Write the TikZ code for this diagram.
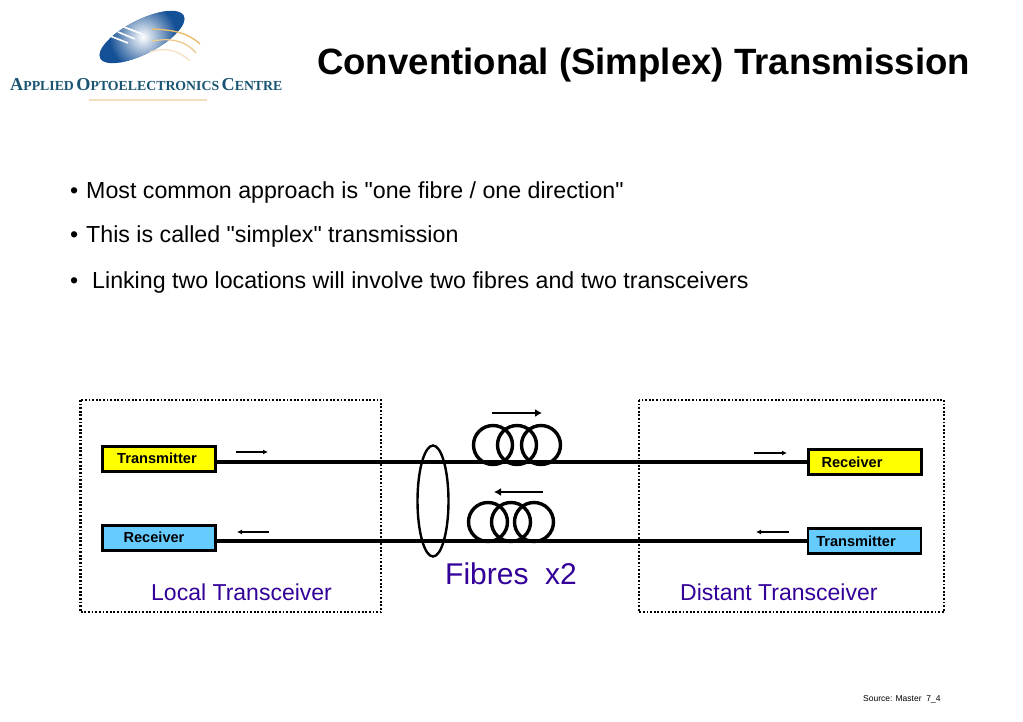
\documentclass[tikz,border=0pt]{standalone}
\usepackage{fontspec}
\setmainfont{Liberation Sans}[Ligatures=TeXOff]
\newfontfamily\logofont{Liberation Serif}
\definecolor{ybox}{RGB}{255,255,0}
\definecolor{bbox}{RGB}{102,204,255}
\definecolor{purp}{RGB}{51,0,153}
\definecolor{logoblue}{RGB}{20,80,150}
\definecolor{logotext}{RGB}{25,85,115}
\definecolor{logoor}{RGB}{235,190,110}
\definecolor{logopeach}{RGB}{245,222,190}
\newcommand{\fsz}[1]{\fontsize{#1}{#1}\selectfont}
\newcommand{\lcap}[1]{{\fsz{18.2}#1}}
\newcommand{\scap}[1]{{\fsz{13.8}#1}}
\usetikzlibrary{arrows.meta,shapes.geometric}
\tikzset{
  x=1pt,y=-1pt,
  unit/.style={draw=black,line width=2.2pt,minimum width=113pt,minimum height=25pt,inner sep=0pt},
  boxtext/.style={font=\fsz{14.6}\bfseries,inner sep=0pt},
  fibre/.style={line width=3.6pt,black},
  coil/.style={draw=black,line width=3.4pt,circle,minimum size=39pt,inner sep=0pt},
  dir/.style={line width=2pt,black,-{Latex[length=5pt,width=5pt]}},
  dirlong/.style={line width=2pt,black,-{Latex[length=7pt,width=8pt]}},
  site/.style={draw=black,line width=2.2pt,dash pattern=on 1.8pt off 1.8pt},
  body/.style={font=\fsz{23.2},anchor=base west,inner sep=0pt},
  purple label/.style={font=\fsz{23},text=purp,anchor=base west,inner sep=0pt},
}
\begin{document}
\begin{tikzpicture}
\useasboundingbox (0,0) rectangle (1023,722);
\fill[white] (0,0) rectangle (1023,722);
% logo
\begin{scope}
  \clip[rotate around={27:(142,37)}] (142,37) ellipse [x radius=47, y radius=17];
  \fill[logoblue] (90,5) rectangle (195,70);
  \shade[inner color=white,outer color=logoblue] (143,37) circle (34);
\end{scope}
\draw[white,line width=1.6pt] (124,27) -- (142,34);
\draw[white,line width=1.6pt] (118,32) -- (135,39);
\draw[white,line width=1.6pt] (110,36) -- (128,43);
\draw[logoor,line width=1.4pt] (152,29) .. controls (175,30) and (188,33) .. (200,44);
\draw[logoor!80,line width=1.3pt] (152,41) .. controls (170,38) and (185,40) .. (196,53);
\draw[logopeach,line width=1.2pt] (150,52) .. controls (165,47) and (178,50) .. (190,61);
\node[anchor=base west,inner sep=0pt,text=logotext,font=\logofont\bfseries] (logotext) at (10,91)
  {\lcap{A}\scap{PPLIED} \lcap{O}\scap{PTOELECTRONICS} \lcap{C}\scap{ENTRE}};
\fill[logopeach] (89,99.5) rectangle (207,101);
% title
\node[anchor=base west,inner sep=0pt,font=\fsz{36.6}\bfseries] (title) at (317,75) {Conventional (Simplex) Transmission};
% bullets
\node[body] (b1) at (70,199) {•};
\node[body] (t1) at (86,199) {Most common approach is "one fibre / one direction"};
\node[body] (b2) at (70,243) {•};
\node[body] (t2) at (86,243) {This is called "simplex" transmission};
\node[body] (b3) at (70,288) {•};
\node[body] (t3) at (92,288) {Linking two locations will involve two fibres and two transceivers};
% sites
\draw[site] (80.5,400) rectangle (381,612);
\draw[site] (639,400) rectangle (944,612);
% units
\node[unit,fill=ybox,label={[boxtext,xshift=-2pt,yshift=1pt]center:Transmitter}] (ltx) at (159,459) {};
\node[unit,fill=bbox,label={[boxtext,xshift=-5pt,yshift=1pt]center:Receiver}] (lrx) at (159,538) {};
\node[unit,fill=ybox,label={[boxtext,xshift=-13pt,yshift=0pt]center:Receiver}] (rrx) at (865,462) {};
\node[unit,fill=bbox,label={[boxtext,xshift=-8.5pt,yshift=0pt]center:Transmitter}] (rtx) at (864.5,541) {};
\draw[fibre] (ltx.east |- rrx.west) -- (rrx.west);
\draw[fibre] (lrx.east |- rtx.west) -- (rtx.west);
% coils
\node[coil] (c1) at (493,445) {};
\node[coil] (c2) at (517,445) {};
\node[coil] (c3) at (541,445) {};
\node[coil] (c4) at (488,522) {};
\node[coil] (c5) at (511,522) {};
\node[coil] (c6) at (534,522) {};
% bundle
\node[draw=black,line width=2.4pt,ellipse,minimum width=31pt,minimum height=111pt,inner sep=0pt] (bundle) at (433,501) {};
% direction arrows
\coordinate (a1s) at (236,452); \coordinate (a1e) at (268,452);
\coordinate (a2s) at (269,532); \coordinate (a2e) at (237,532);
\coordinate (a3s) at (754,453); \coordinate (a3e) at (787,453);
\coordinate (a4s) at (789,532); \coordinate (a4e) at (756,532);
\coordinate (a5s) at (492,413); \coordinate (a5e) at (542,413);
\coordinate (a6s) at (543,492); \coordinate (a6e) at (494,492);
\draw[dir] (a1s) -- (a1e);
\draw[dir] (a2s) -- (a2e);
\draw[dir] (a3s) -- (a3e);
\draw[dir] (a4s) -- (a4e);
\draw[dirlong] (a5s) -- (a5e);
\draw[dirlong] (a6s) -- (a6e);
% labels
\node[purple label] (ll) at (151,600) {Local Transceiver};
\node[purple label] (dl) at (680,600) {Distant Transceiver};
\node[purple label,font=\fsz{30}] (fl) at (445,584) {Fibres\ \ x2};
\node[anchor=base west,inner sep=0pt,font=\fsz{8.5}] (src) at (863,701) {Source: Master\ \ 7\_4};
\end{tikzpicture}
\end{document}
